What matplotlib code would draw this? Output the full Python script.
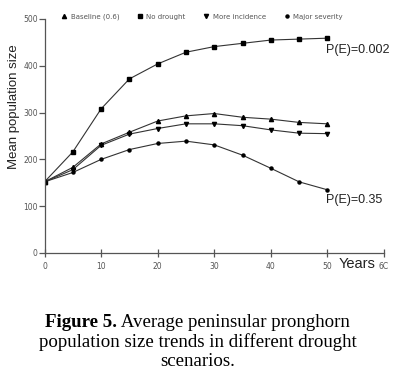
import matplotlib.pyplot as plt

years = [0, 5, 10, 15, 20, 25, 30, 35, 40, 45, 50]

baseline = [152, 183, 233, 258, 282, 293, 298, 290, 286, 279, 276]
no_drought = [152, 216, 308, 372, 404, 429, 441, 448, 455, 457, 459]
more_incidence = [152, 178, 230, 254, 266, 276, 276, 272, 263, 256, 255]
major_severity = [152, 172, 200, 221, 234, 239, 231, 209, 181, 152, 135]

labels = ['Baseline (0.6)', 'No drought', 'More incidence', 'Major severity']
markers = ['^', 's', 'v', 'o']
sizes = [3.0, 3.2, 3.0, 2.2]

fig = plt.figure(figsize=(3.95, 3.82), dpi=100)
ax = fig.add_axes([0.1127, 0.3377, 0.8595, 0.6126])

for series, lab, m, s in zip([baseline, no_drought, more_incidence, major_severity],
                             labels, markers, sizes):
    ax.plot(years, series, color='#333333', lw=0.8, marker=m, ms=s,
            mfc='black', mec='black', label=lab)

ax.set_xlim(0, 60)
ax.set_ylim(0, 500)
ax.set_xticks(range(0, 61, 10))
ax.set_yticks(range(0, 501, 100))
ax.set_xticklabels(['0', '10', '20', '30', '40', '50', '6C'])
for side in ['top', 'right']:
    ax.spines[side].set_visible(False)
for side in ['left', 'bottom']:
    ax.spines[side].set_color('#555555')
    ax.spines[side].set_linewidth(0.9)
ax.tick_params(axis='both', direction='inout', length=6, width=0.9,
               colors='#555555', labelsize=5.5, labelcolor='#555555')
ax.tick_params(axis='y', direction='out', length=4, pad=0.8)

ax.set_ylabel('Mean population size', fontsize=9.5, color='#222222',
              family='Liberation Sans')
ax.yaxis.set_label_coords(-0.072, 0.624)
ax.text(52, -24, 'Years', fontsize=10.5, color='#222222',
        family='Liberation Sans', va='center', ha='left', clip_on=False)

ax.text(49.7, 434, 'P(E)=0.002', fontsize=9, family='Liberation Sans',
        color='#222222', va='center', ha='left', clip_on=False)
ax.text(49.8, 113, 'P(E)=0.35', fontsize=9, family='Liberation Sans',
        color='#222222', va='center', ha='left', clip_on=False)

leg = ax.legend(loc='center', bbox_to_anchor=(0.464, 1.008), ncol=4,
                frameon=False, fontsize=5, handlelength=0.8,
                handletextpad=0.5, columnspacing=2.6, borderpad=0)
for t in leg.get_texts():
    t.set_color('#555555')
for h in leg.legend_handles:
    h.set_linestyle('none')

# caption, first line has a bold part
renderer = fig.canvas.get_renderer()
cap_y = [0.157, 0.104, 0.053]
cap_size = 13.6
b = fig.text(0, cap_y[0], 'Figure 5.', fontsize=cap_size, weight='bold',
             family='Liberation Serif', va='center', ha='left')
r = fig.text(0, cap_y[0], ' Average peninsular pronghorn', fontsize=cap_size,
             family='Liberation Serif', va='center', ha='left')
wb = b.get_window_extent(renderer).width / fig.bbox.width
wr = r.get_window_extent(renderer).width / fig.bbox.width
x0 = 0.5 - (wb + wr) / 2
b.set_x(x0)
r.set_x(x0 + wb)
fig.text(0.5, cap_y[1], 'population size trends in different drought',
         fontsize=cap_size, family='Liberation Serif', va='center', ha='center')
fig.text(0.5, cap_y[2], 'scenarios.', fontsize=cap_size,
         family='Liberation Serif', va='center', ha='center')

fig.savefig('out.png', dpi=100)
